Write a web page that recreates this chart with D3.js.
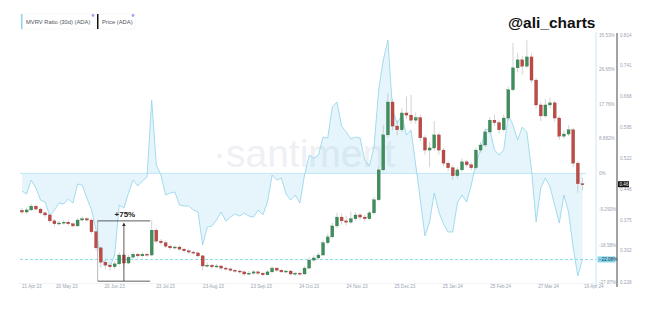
<!DOCTYPE html>
<html>
<head>
<meta charset="utf-8">
<script src="https://d3js.org/d3.v7.min.js"></script>
<style>
  html, body { margin: 0; padding: 0; background: #fff; }
  #chart { width: 651px; height: 311px; }
  text { font-family: "Liberation Sans", Arial, sans-serif; }
</style>
</head>
<body>
<div id="chart"></div>
<script>
// candles every 3 days starting 21 Apr 23 (open = previous close)
const startDate = new Date(2023, 3, 21);
const stepDays = 3;
const firstOpen = 0.398;
const closes = [
  0.394, 0.399, 0.408, 0.401, 0.392, 0.387, 0.373, 0.366, 0.368, 0.370,
  0.366, 0.361, 0.375, 0.378, 0.375, 0.347, 0.309, 0.275, 0.268, 0.264,
  0.271, 0.292, 0.273, 0.287, 0.294, 0.290, 0.294, 0.292, 0.351, 0.325,
  0.321, 0.313, 0.309, 0.311, 0.306, 0.302, 0.299, 0.297, 0.290, 0.266,
  0.268, 0.264, 0.266, 0.261, 0.259, 0.256, 0.254, 0.252, 0.247, 0.249,
  0.252, 0.249, 0.245, 0.252, 0.261, 0.256, 0.252, 0.254, 0.247, 0.249,
  0.247, 0.261, 0.280, 0.285, 0.292, 0.321, 0.335, 0.361, 0.382, 0.373,
  0.370, 0.378, 0.387, 0.382, 0.378, 0.392, 0.423, 0.494, 0.577, 0.655,
  0.598, 0.589, 0.629, 0.624, 0.612, 0.618, 0.570, 0.541, 0.546, 0.577,
  0.541, 0.510, 0.499, 0.480, 0.494, 0.513, 0.506, 0.499, 0.541, 0.553,
  0.584, 0.612, 0.606, 0.589, 0.617, 0.684, 0.736, 0.755, 0.740, 0.762,
  0.707, 0.648, 0.622, 0.648, 0.653, 0.617, 0.574, 0.579, 0.589, 0.510,
  0.461, 0.460
];
const highs = [
  0.404, 0.405, 0.414, 0.412, 0.404, 0.396, 0.390, 0.377, 0.373, 0.375,
  0.374, 0.369, 0.380, 0.384, 0.382, 0.379, 0.350, 0.312, 0.281, 0.274,
  0.278, 0.298, 0.296, 0.292, 0.299, 0.297, 0.298, 0.298, 0.375, 0.356,
  0.330, 0.326, 0.317, 0.315, 0.314, 0.309, 0.306, 0.303, 0.300, 0.292,
  0.274, 0.271, 0.271, 0.268, 0.265, 0.262, 0.259, 0.258, 0.255, 0.254,
  0.256, 0.255, 0.252, 0.256, 0.266, 0.263, 0.259, 0.257, 0.257, 0.252,
  0.253, 0.266, 0.287, 0.292, 0.298, 0.327, 0.343, 0.368, 0.392, 0.390,
  0.385, 0.395, 0.393, 0.392, 0.388, 0.397, 0.430, 0.502, 0.600, 0.676,
  0.662, 0.612, 0.640, 0.668, 0.672, 0.630, 0.625, 0.576, 0.560, 0.610,
  0.582, 0.546, 0.516, 0.505, 0.500, 0.522, 0.518, 0.512, 0.547, 0.560,
  0.592, 0.620, 0.625, 0.612, 0.625, 0.692, 0.795, 0.772, 0.765, 0.802,
  0.770, 0.712, 0.655, 0.662, 0.665, 0.658, 0.622, 0.588, 0.600, 0.594,
  0.515, 0.475
];
const lows = [
  0.389, 0.390, 0.396, 0.397, 0.388, 0.381, 0.368, 0.360, 0.362, 0.364,
  0.362, 0.357, 0.359, 0.372, 0.371, 0.342, 0.302, 0.262, 0.258, 0.255,
  0.258, 0.268, 0.262, 0.270, 0.283, 0.285, 0.287, 0.288, 0.289, 0.320,
  0.316, 0.309, 0.304, 0.305, 0.302, 0.298, 0.295, 0.293, 0.285, 0.255,
  0.262, 0.259, 0.261, 0.257, 0.255, 0.252, 0.250, 0.248, 0.242, 0.244,
  0.246, 0.245, 0.241, 0.243, 0.250, 0.252, 0.249, 0.249, 0.243, 0.243,
  0.243, 0.245, 0.259, 0.276, 0.281, 0.289, 0.317, 0.331, 0.356, 0.365,
  0.362, 0.366, 0.373, 0.376, 0.372, 0.375, 0.388, 0.420, 0.490, 0.570,
  0.588, 0.576, 0.584, 0.615, 0.605, 0.603, 0.562, 0.530, 0.500, 0.540,
  0.530, 0.503, 0.490, 0.470, 0.474, 0.490, 0.500, 0.493, 0.495, 0.535,
  0.548, 0.580, 0.598, 0.580, 0.585, 0.612, 0.680, 0.725, 0.720, 0.735,
  0.700, 0.640, 0.610, 0.618, 0.640, 0.608, 0.565, 0.568, 0.574, 0.500,
  0.440, 0.445
];
// MVRV Ratio (30d), %, same dates as the candles
const mvrv = [
  -4.52, -5.29, -1.69, -3.75, -6.83, -7.34, -10.94, -9.40, -7.60, -7.86,
  -6.57, -7.60, -2.72, -2.98, -6.31, -9.40, -14.53, -22.49, -22.74, -24.03,
  -20.95, -8.11, -8.88, -5.03, -1.69, -3.23, -1.95, -0.92, 18.84, 2.16,
  -0.41, -5.54, -5.03, -4.77, -8.11, -8.37, -8.37, -9.40, -9.91, -18.38,
  -13.76, -13.50, -11.96, -9.91, -12.22, -11.19, -10.42, -10.94, -10.17, -10.94,
  -11.19, -9.40, -10.68, -7.34, -0.41, -1.69, -1.18, -5.29, -6.83, -5.54,
  -7.60, -0.41, 4.72, 3.95, 4.72, 9.34, 9.09, 17.04, 18.33, 12.17,
  10.63, 8.83, 9.34, 9.09, 3.44, 1.90, 6.78, 21.41, 29.11, 34.24,
  16.27, 12.94, 14.99, 9.86, 11.14, 2.16, -6.83, -16.07, -12.48, -5.03,
  -9.91, -12.99, -15.04, -15.04, -7.60, -5.54, -7.34, -2.98, 2.67, 6.01,
  11.14, 11.40, 6.01, 4.72, 6.01, 14.99, 12.42, 8.57, 11.91, 10.63,
  0.87, -12.48, -3.75, -1.18, -3.49, -8.11, -12.73, -5.54, -9.91, -19.15,
  -26.34, -22.08
];

const xTicks = ["2023-04-21", "2023-05-20", "2023-06-20", "2023-07-23", "2023-08-23", "2023-09-23",
  "2023-10-24", "2023-11-24", "2023-12-25", "2024-01-25", "2024-02-25", "2024-03-27", "2024-04-19"];
const mvrvTicks = [35.53, 26.65, 17.76, 8.882, 0, -9.29, -18.58, -27.87];
const mvrvTickLabels = ["35.53%", "26.65%", "17.76%", "8.882%", "0%", "-9.290%", "-18.58%", "-27.87%"];
const priceTicks = [0.814, 0.741, 0.668, 0.595, 0.522, 0.448, 0.375, 0.302, 0.228];

// +75% measurement box
const measure = { from: "2023-06-09", mid: "2023-06-26", to: "2023-07-13", low: 0.230, high: 0.373, label: "+75%" };

function renderChart() {
  const width = 651, height = 311;
  const plot = { left: 22, right: 584, top: 35, bottom: 282 };

  const svg = d3.select("#chart").append("svg").attr("width", width).attr("height", height);
  const parse = d3.timeParse("%Y-%m-%d");

  const candles = closes.map((c, i) => ({
    date: d3.timeDay.offset(startDate, i * stepDays),
    open: i === 0 ? firstOpen : closes[i - 1],
    close: c, high: highs[i], low: lows[i], mvrv: mvrv[i]
  }));

  const x = d3.scaleTime()
    .domain([startDate, parse(xTicks[xTicks.length - 1])])
    .range([plot.left, plot.right]);
  const yM = d3.scaleLinear().domain([-27.87, 35.53]).range([plot.bottom, plot.top]);
  const yP = d3.scaleLinear().domain([0.228, 0.814]).range([plot.bottom, plot.top]);

  // watermark
  svg.append("text").attr("x", 213).attr("y", 167)
    .attr("font-size", 39).attr("fill", "#eef0f4").attr("font-family", "Lato, sans-serif")
    .attr("font-weight", 300).text("·santiment");

  // x axis baseline
  svg.append("line").attr("x1", 18).attr("x2", 596).attr("y1", 283.5).attr("y2", 283.5)
    .attr("stroke", "#eef0f3").attr("stroke-width", 0.8);

  // MVRV area + zero line
  const area = d3.area().x(d => x(d.date)).y0(yM(0)).y1(d => yM(d.mvrv));
  svg.append("path").datum(candles).attr("d", area).attr("fill", "rgba(125,205,235,0.2)");
  svg.append("line").attr("x1", 20).attr("x2", 586).attr("y1", yM(0)).attr("y2", yM(0))
    .attr("stroke", "#b3e2f2").attr("stroke-width", 0.8);

  // current MVRV dashed line
  const lastM = mvrv[mvrv.length - 1];
  svg.append("line").attr("x1", 20).attr("x2", 596).attr("y1", yM(lastM)).attr("y2", yM(lastM))
    .attr("stroke", "#7fd6ea").attr("stroke-width", 0.9).attr("stroke-dasharray", "3,2");

  const line = d3.line().x(d => x(d.date)).y(d => yM(d.mvrv));
  svg.append("path").datum(candles).attr("d", line)
    .attr("fill", "none").attr("stroke", "#8fd3ea").attr("stroke-width", 0.8);

  // candles
  const g = svg.append("g");
  g.selectAll(".wick").data(candles).enter().append("line")
    .attr("x1", d => x(d.date)).attr("x2", d => x(d.date))
    .attr("y1", d => yP(d.high)).attr("y2", d => yP(d.low))
    .attr("stroke", "#b5b5b5").attr("stroke-width", 0.6);
  g.selectAll(".body").data(candles).enter().append("rect")
    .attr("x", d => x(d.date) - 1.5)
    .attr("y", d => yP(Math.max(d.open, d.close)))
    .attr("width", 3)
    .attr("height", d => Math.max(1, Math.abs(yP(d.open) - yP(d.close))))
    .attr("fill", d => d.close >= d.open ? "#3f8f5c" : "#c04a46")
    .attr("stroke", d => d.close >= d.open ? "#2e6b45" : "#8f3431")
    .attr("stroke-width", 0.3);

  // measurement annotation
  const mx0 = x(parse(measure.from)), mx1 = x(parse(measure.to)), mxm = x(parse(measure.mid));
  const myH = yP(measure.high), myL = yP(measure.low);
  svg.append("line").attr("x1", mx0).attr("x2", mx0).attr("y1", myH).attr("y2", myL)
    .attr("stroke", "#9a9a9a").attr("stroke-width", 0.7);
  svg.append("line").attr("x1", mx0).attr("x2", mx1).attr("y1", myH).attr("y2", myH)
    .attr("stroke", "#333").attr("stroke-width", 0.8);
  svg.append("line").attr("x1", mx0).attr("x2", mx1).attr("y1", myL).attr("y2", myL)
    .attr("stroke", "#333").attr("stroke-width", 0.8);
  svg.append("line").attr("x1", mxm).attr("x2", mxm).attr("y1", myL).attr("y2", myH + 3)
    .attr("stroke", "#333").attr("stroke-width", 0.8);
  svg.append("path")
    .attr("d", `M${mxm - 1.8},${myH + 5} L${mxm},${myH + 1.5} L${mxm + 1.8},${myH + 5} Z`)
    .attr("fill", "#333");
  svg.append("text").attr("x", mxm + 1).attr("y", myH - 4).attr("text-anchor", "middle")
    .attr("font-size", 8).attr("font-weight", "bold").attr("fill", "#222").text(measure.label);

  // right axes
  svg.append("line").attr("x1", 596).attr("x2", 596).attr("y1", 32).attr("y2", 287)
    .attr("stroke", "#b8e4f3").attr("stroke-width", 0.8);
  svg.append("line").attr("x1", 617).attr("x2", 617).attr("y1", 33).attr("y2", 287)
    .attr("stroke", "#444").attr("stroke-width", 1);

  svg.selectAll(".mt").data(mvrvTicks).enter().append("text")
    .attr("x", 599).attr("y", d => yM(d)).attr("dy", "0.35em")
    .attr("font-size", 4.6).attr("fill", "#9aa3b3")
    .text((d, i) => mvrvTickLabels[i]);
  svg.selectAll(".pt").data(priceTicks).enter().append("text")
    .attr("x", 620).attr("y", d => yP(d)).attr("dy", "0.35em")
    .attr("font-size", 4.6).attr("fill", "#9aa3b3")
    .text(d => d3.format(".3f")(d));

  // current value badges
  svg.append("rect").attr("x", 597.5).attr("y", yM(lastM) - 3).attr("width", 18).attr("height", 6)
    .attr("fill", "#86d5ec");
  svg.append("text").attr("x", 599).attr("y", yM(lastM)).attr("dy", "0.35em")
    .attr("font-size", 4.6).attr("fill", "#1d3446").text(d3.format(".2f")(lastM) + "%");
  const lastP = closes[closes.length - 1];
  svg.append("rect").attr("x", 618).attr("y", yP(lastP) - 3).attr("width", 11).attr("height", 6)
    .attr("fill", "#111");
  svg.append("text").attr("x", 619.5).attr("y", yP(lastP)).attr("dy", "0.35em")
    .attr("font-size", 4.6).attr("fill", "#fff").text(d3.format(".2f")(lastP));

  // x axis labels
  const fmt = d3.timeFormat("%d %b %y");
  svg.selectAll(".xt").data(xTicks).enter().append("text")
    .attr("x", d => x(parse(d)))
    .attr("y", 288)
    .attr("text-anchor", (d, i) => (i === 0 || i === xTicks.length - 1) ? "start" : "middle")
    .attr("font-size", 4.6).attr("fill", "#9aa3b3")
    .text(d => fmt(parse(d)));

  // legend
  const legend = [
    { label: "MVRV Ratio (30d) (ADA)", color: "#8fd3ea", x: 21, w: 74 },
    { label: "Price (ADA)", color: "#111", x: 97, w: 38 }
  ];
  const lg = svg.selectAll(".lg").data(legend).enter().append("g")
    .attr("transform", d => `translate(${d.x},14)`);
  lg.append("rect").attr("width", d => d.w).attr("height", 15)
    .attr("fill", "#fff").attr("stroke", "#f0f1f4").attr("stroke-width", 0.6);
  lg.append("rect").attr("width", 1.5).attr("height", 15).attr("fill", d => d.color);
  lg.append("text").attr("x", 5).attr("y", 9.8).attr("font-size", 5.8).attr("fill", "#505660")
    .text(d => d.label);
  lg.append("circle").attr("cx", d => d.w - 2).attr("cy", 1.5).attr("r", 1.4).attr("fill", "#a9a2ef");

  // handle
  svg.append("text").attr("x", 508).attr("y", 28).attr("font-size", 15.5).attr("font-weight", "bold")
    .attr("fill", "#111").text("@ali_charts");
}

renderChart();
</script>
</body>
</html>
